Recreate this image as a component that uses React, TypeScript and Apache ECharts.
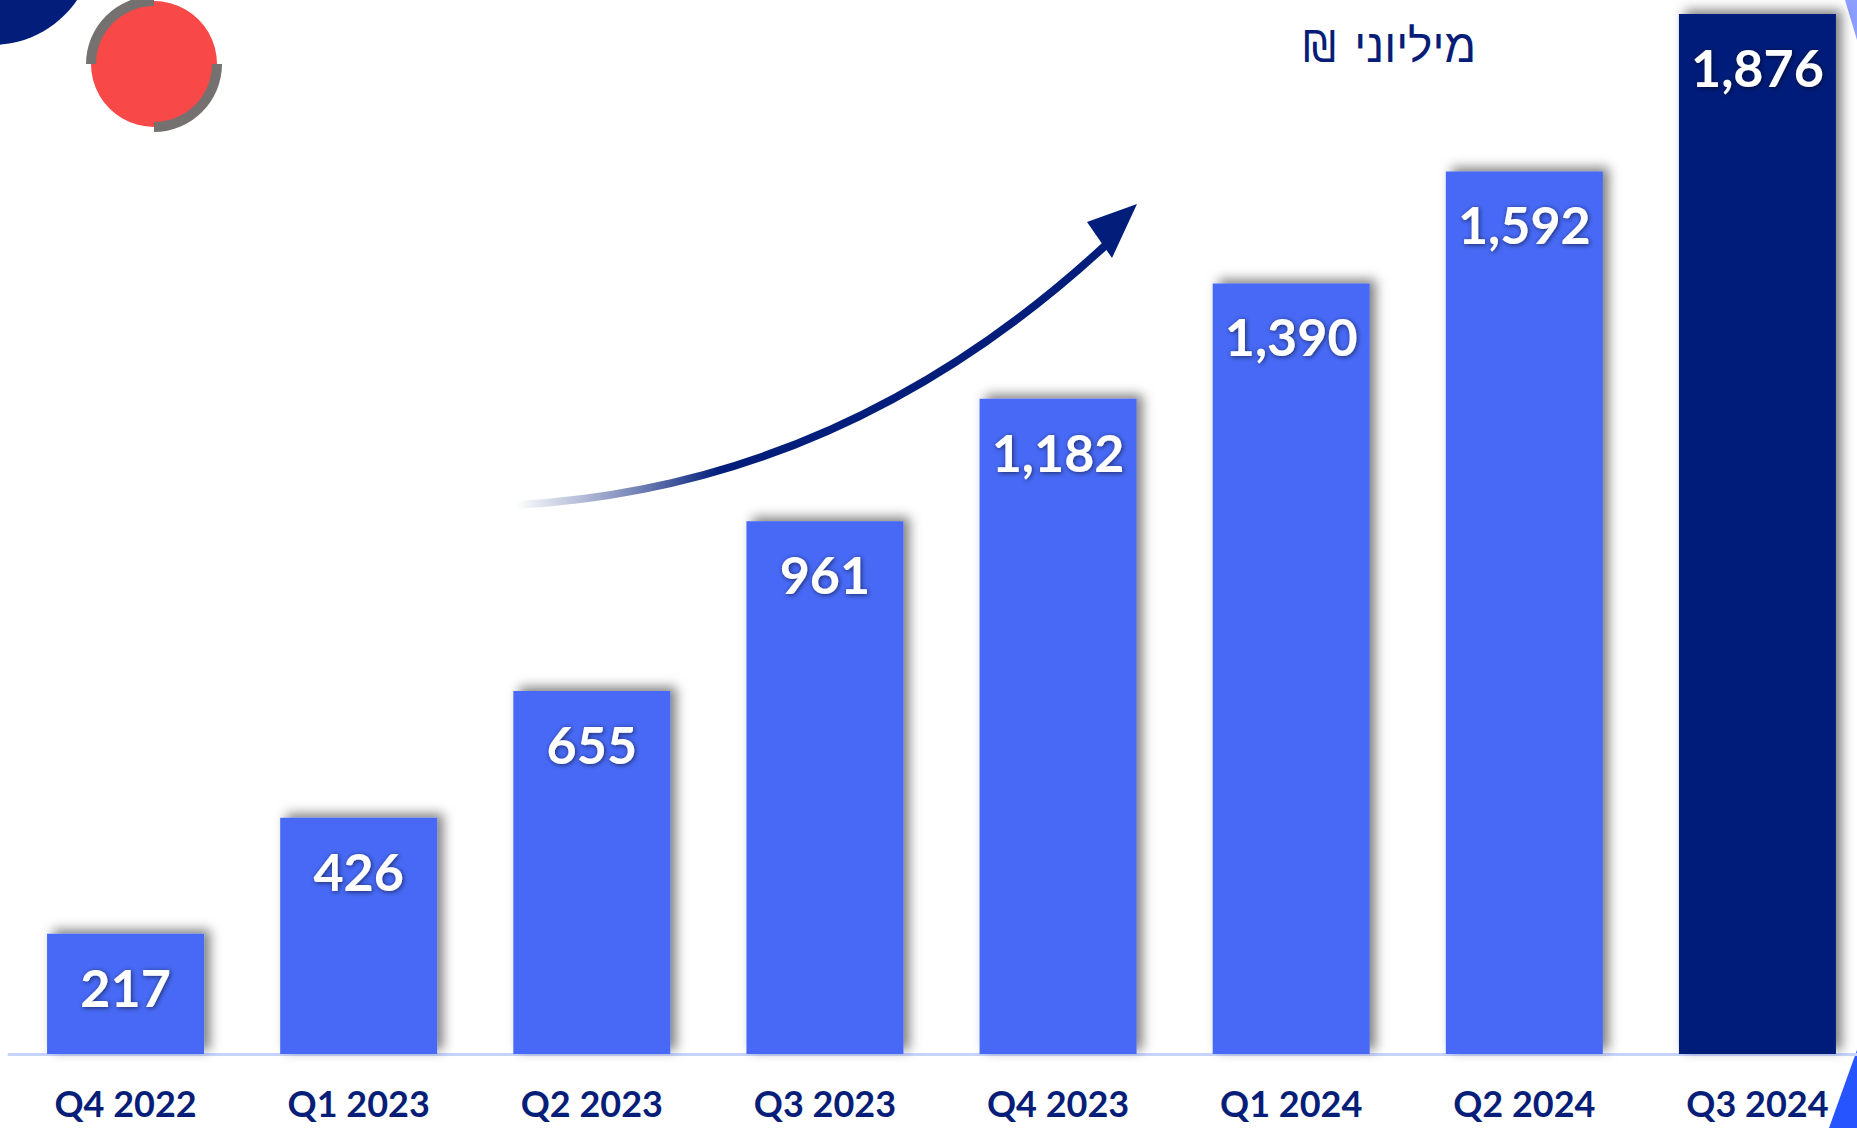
import React, { useEffect, useRef } from "react";
import * as echarts from "echarts";

const categories = ["Q4 2022", "Q1 2023", "Q2 2023", "Q3 2023", "Q4 2023", "Q1 2024", "Q2 2024", "Q3 2024"];
const revenues = [217, 426, 655, 961, 1182, 1390, 1592, 1876];
const unitWord = "מיליוני";
const unitSign = "₪";

const BAR = "#4669F5";
const BAR_LAST = "#021E7A";
const NAVY = "#061E78";

export default function App() {
  const ref = useRef<HTMLDivElement>(null);
  useEffect(() => {
    document.body.style.margin = "0";
    const chart = echarts.init(ref.current!, null, { renderer: "svg" });
    const data = revenues.map((v, i) => ({
      value: v,
      itemStyle: { color: i === revenues.length - 1 ? BAR_LAST : BAR },
    }));
    const arrowGrad = new echarts.graphic.LinearGradient(
      515, 0, 720, 0,
      [
        { offset: 0, color: "rgba(2,30,122,0)" },
        { offset: 0.6, color: "rgba(2,30,122,0.55)" },
        { offset: 1, color: "rgba(2,30,122,1)" },
      ],
      true
    );
    chart.setOption({
      animation: false,
      backgroundColor: "#ffffff",
      grid: { left: 9, top: 14, width: 1865, height: 1040, containLabel: false },
      xAxis: {
        type: "category",
        data: categories,
        axisLine: { show: true, lineStyle: { color: "#C7D4FF", width: 3 } },
        axisTick: { show: false },
        axisLabel: {
          color: NAVY,
          fontFamily: "Lato",
          fontWeight: "bold",
          fontSize: 36,
          lineHeight: 36,
          margin: 31,
        },
      },
      yAxis: {
        type: "value",
        min: 0,
        max: 1876,
        show: false,
        splitLine: { show: false },
      },
      series: [
        {
          type: "bar",
          data,
          barWidth: 157,
          itemStyle: {
            shadowBlur: 12,
            shadowColor: "rgba(0,0,0,0.5)",
            shadowOffsetX: 6,
            shadowOffsetY: -4,
          },
          label: {
            show: true,
            position: "insideTop",
            distance: 27,
            color: "#ffffff",
            fontFamily: "Lato",
            fontWeight: "bold",
            fontSize: 52,
            textShadowColor: "rgba(0,0,0,0.6)",
            textShadowBlur: 5,
            textShadowOffsetX: 1,
            textShadowOffsetY: 1,
            formatter: (p: any) => Number(p.value).toLocaleString("en-US"),
          },
        },
      ],
      graphic: [
        {
          type: "circle",
          shape: { cx: -8, cy: -58, r: 103 },
          style: { fill: BAR_LAST },
          silent: true,
        },
        {
          type: "circle",
          shape: { cx: 154, cy: 64, r: 63 },
          style: { fill: "#F94848" },
          silent: true,
        },
        {
          type: "sector",
          shape: { cx: 154, cy: 64, r0: 58, r: 68, startAngle: Math.PI, endAngle: Math.PI * 1.5, clockwise: true },
          style: { fill: "#757170" },
          silent: true,
        },
        {
          type: "sector",
          shape: { cx: 154, cy: 64, r0: 58, r: 68, startAngle: 0, endAngle: Math.PI / 2, clockwise: true },
          style: { fill: "#757170" },
          silent: true,
        },
        {
          type: "polygon",
          shape: { points: [[1845, 0], [1857, 0], [1857, 40]] },
          style: { fill: "#8C9EFF" },
          silent: true,
        },
        {
          type: "polygon",
          shape: { points: [[1829, 1128], [1857, 1050], [1857, 1128]] },
          style: { fill: "#2655FF" },
          silent: true,
        },
        {
          type: "bezierCurve",
          shape: { x1: 515, y1: 505, cpx1: 760, cpy1: 492, cpx2: 955, cpy2: 385, x2: 1108, y2: 243 },
          style: { stroke: arrowGrad, lineWidth: 8, fill: "none" },
          silent: true,
        },
        {
          type: "polygon",
          shape: { points: [[1137, 204], [1087, 222], [1112, 258]] },
          style: { fill: BAR_LAST },
          silent: true,
        },
        {
          type: "text",
          x: 1476,
          y: 46,
          style: {
            text: unitWord,
            fill: NAVY,
            font: "46px 'Liberation Sans', 'DejaVu Sans', sans-serif",
            textAlign: "right",
            textVerticalAlign: "middle",
          },
          silent: true,
        },
        {
          type: "text",
          x: 1303,
          y: 46,
          style: {
            text: unitSign,
            fill: NAVY,
            font: "42px 'DejaVu Sans', 'Liberation Sans', sans-serif",
            textAlign: "left",
            textVerticalAlign: "middle",
          },
          silent: true,
        },
      ],
    });
    return () => chart.dispose();
  }, []);
  return (
    <div style={{ position: "absolute", left: 0, top: 0, width: 1857, height: 1128, overflow: "hidden" }}>
      <div ref={ref} style={{ width: 1880, height: 1128 }} />
    </div>
  );
}
